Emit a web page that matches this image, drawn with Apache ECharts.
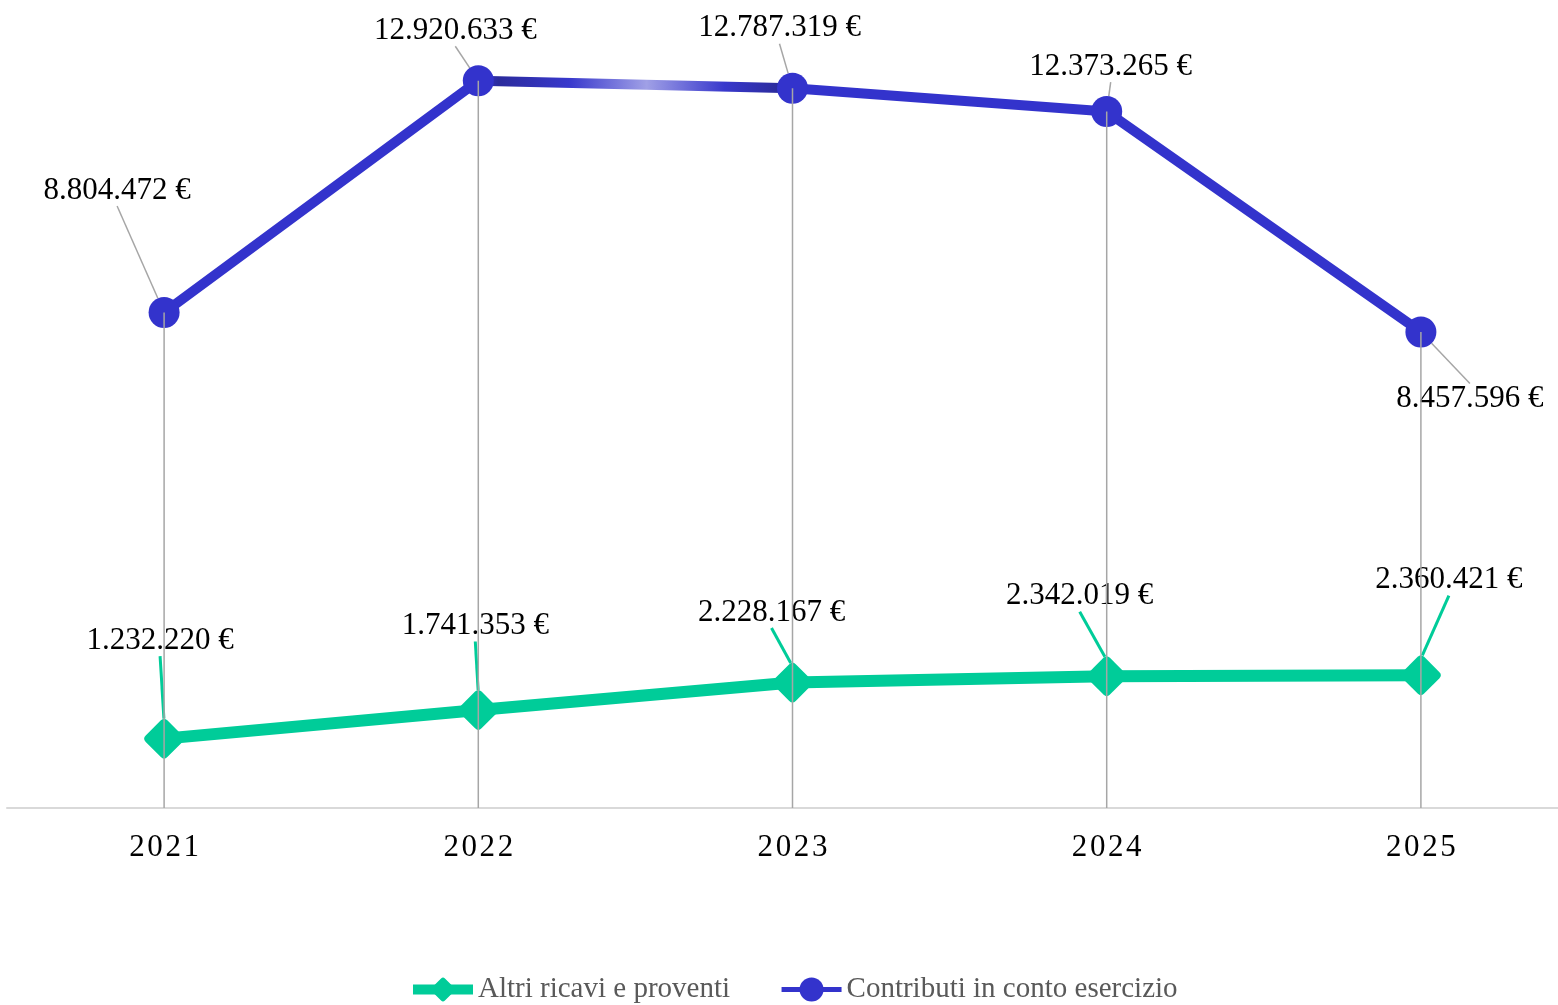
<!DOCTYPE html>
<html>
<head>
<meta charset="utf-8">
<script src="https://cdn.jsdelivr.net/npm/echarts@6/dist/echarts.min.js"></script>
<style>
  html, body { margin: 0; padding: 0; background: #fff; }
  #chart { width: 1558px; height: 1005px; }
</style>
</head>
<body>
<div id="chart"></div>
<script>
// data
const years = ['2021', '2022', '2023', '2024', '2025']
const altriRicavi = [1232220, 1741353, 2228167, 2342019, 2360421]
const contributi = [8804472, 12920633, 12787319, 12373265, 8457596]

// where each value label sits, relative to its point
const contributiLabelOff = [[-47, -122], [-23, -50], [-13, -60], [4, -45], [49, 67]]
const altriLabelOff = [[-4, -98], [-3, -84], [-21, -70], [-27, -80], [28, -95]]

const GREEN = '#00cc99'
const BLUE = '#3333cc'
const FONT = 'Liberation Serif'

// diamond with softened corners
const ROUND_DIAMOND = 'path://M15 -85L85 -15Q100 0 85 15L15 85Q0 100 -15 85L-85 15Q-100 0 -85 -15L-15 -85Q0 -100 15 -85Z'

// the odd shine on the 2022-2023 stretch of the blue line
const blueLine = new echarts.graphic.LinearGradient(0, 0, 1558, 0, [
  { offset: 0, color: BLUE },
  { offset: 0.31, color: BLUE },
  { offset: 0.32, color: '#2b2b9c' },
  { offset: 0.365, color: '#3838cc' },
  { offset: 0.415, color: '#a0a0e6' },
  { offset: 0.465, color: '#3838cc' },
  { offset: 0.5, color: '#2b2b9c' },
  { offset: 0.51, color: BLUE },
  { offset: 1, color: BLUE }
], true)

function euro (v) {
  return String(v).replace(/\B(?=(\d{3})+(?!\d))/g, '.') + ' €'
}

function layoutFrom (offsets) {
  return function (p) {
    const o = offsets[p.dataIndex]
    return {
      x: p.rect.x + p.rect.width / 2 + o[0],
      y: p.rect.y + p.rect.height / 2 + o[1],
      align: 'center',
      verticalAlign: 'middle'
    }
  }
}

const chart = echarts.init(document.getElementById('chart'))
chart.setOption({
  animation: false,
  textStyle: { fontFamily: FONT },
  grid: { left: 7, right: -20, top: 20, bottom: 197, outerBoundsMode: 'none', containLabel: false },
  legend: {
    top: 970,
    left: 403,
    data: [
      { name: 'Altri ricavi e proventi', lineStyle: { color: GREEN, width: 10 }, itemStyle: { color: GREEN } },
      { name: 'Contributi in conto esercizio', lineStyle: { color: BLUE, width: 5 }, itemStyle: { color: BLUE } }
    ],
    itemWidth: 60,
    itemHeight: 30,
    itemGap: 49,
    textStyle: { fontFamily: FONT, fontSize: 29, color: '#595959' }
  },
  xAxis: {
    type: 'category',
    data: years,
    axisLine: { lineStyle: { color: '#d9d9d9', width: 2 } },
    axisTick: { show: false },
    axisLabel: {
      margin: 24,
      fontFamily: FONT,
      fontSize: 31,
      color: '#000',
      formatter: v => v.split('').join('\u200a')
    },
    splitLine: { show: false }
  },
  yAxis: {
    type: 'value',
    min: 0,
    max: 14000000,
    show: false,
    splitLine: { show: false }
  },
  series: [
    {
      name: 'Altri ricavi e proventi',
      type: 'line',
      data: altriRicavi,
      symbol: ROUND_DIAMOND,
      symbolSize: 40,
      itemStyle: { color: GREEN },
      lineStyle: { color: GREEN, width: 12 },
      label: {
        show: true,
        formatter: p => euro(p.value),
        fontFamily: FONT,
        fontSize: 31,
        color: '#000'
      },
      labelLine: { show: true, lineStyle: { color: GREEN, width: 3 } },
      labelLayout: layoutFrom(altriLabelOff),
      z: 2
    },
    {
      name: 'Contributi in conto esercizio',
      type: 'line',
      data: contributi,
      symbol: 'circle',
      symbolSize: 31,
      itemStyle: { color: BLUE },
      lineStyle: { color: blueLine, width: 10 },
      label: {
        show: true,
        formatter: p => euro(p.value),
        fontFamily: FONT,
        fontSize: 31,
        color: '#000'
      },
      labelLine: { show: true, lineStyle: { color: '#a6a6a6', width: 1.5 } },
      labelLayout: layoutFrom(contributiLabelOff),
      z: 2
    },
    {
      // thin drop lines from each top point down to the axis
      name: 'drop',
      type: 'bar',
      data: contributi,
      barWidth: 1.5,
      silent: true,
      itemStyle: { color: '#a6a6a6' },
      z: 3
    }
  ]
})
</script>
</body>
</html>
